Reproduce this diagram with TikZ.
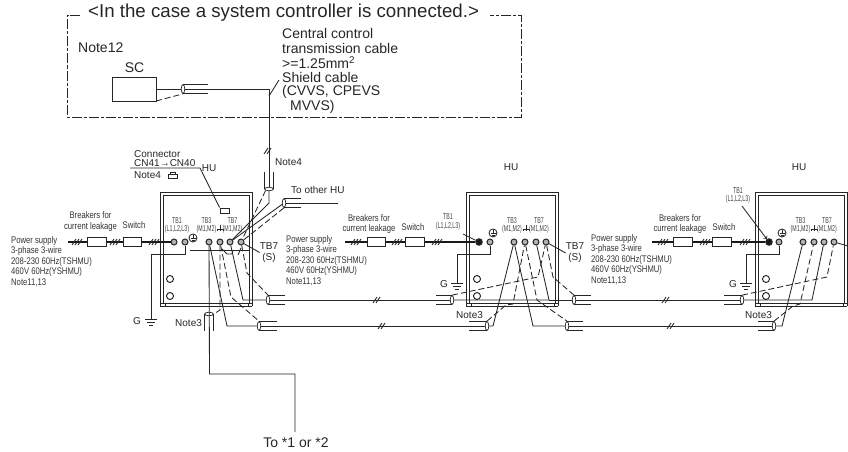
\documentclass[tikz,border=0pt]{standalone}
\usepackage{fontspec}
\setmainfont{Liberation Sans}
\newfontfamily\narrowfont[FakeStretch=0.8]{Liberation Sans}
\newfontfamily\tbfont[FakeStretch=0.62]{Liberation Sans}
\usetikzlibrary{calc,shapes.geometric}
\tikzset{
	wire/.style={line width=0.85pt, color=black!85},
	shield/.style={wire, dash pattern=on 6pt off 3pt},
	feed/.style={line width=1.6pt, color=black!90},
	frameline/.style={line width=0.8pt, color=black!85, dash pattern=on 10pt off 2pt on 3pt off 2pt},
	term/.style={circle, draw=black!85, line width=1pt, fill=black!30, minimum size=6pt, inner sep=0pt},
	termfull/.style={term, fill=black!90, minimum size=6.5pt},
	hole/.style={circle, draw=black!90, line width=0.9pt, minimum size=7pt, inner sep=0pt},
	cablev/.style={ellipse, draw=black!85, line width=0.7pt, minimum width=3.5pt, minimum height=9pt, inner sep=0pt},
	cableh/.style={ellipse, draw=black!85, line width=0.7pt, minimum width=9pt, minimum height=3.5pt, inner sep=0pt},
	breaker/.style={rectangle, draw=black!85, fill=white, line width=0.85pt, inner sep=0pt},
	bigtxt/.style={color=black!85, font=\fontsize{14}{15}\selectfont, inner sep=0pt},
	midtxt/.style={color=black!85, font=\fontsize{10}{11}\selectfont, inner sep=0pt},
	pwrtxt/.style={color=black!80, font=\narrowfont\fontsize{9.6}{10.6}\selectfont, inner sep=0pt, align=left},
	tbtxt/.style={color=black!75, font=\tbfont\fontsize{8.5}{8.8}\selectfont, inner sep=0pt, align=center},
}
% cable end seen from the side, #4 = length and direction of the sleeve
\def\sleeve(#1)(#2,#3)(#4){\node[cablev] (#1) at (#2,#3) {};
	\draw[wire] (#1.north) -- ++(#4,0);
	\draw[wire] (#1.south) -- ++(#4,0);}
\def\ticks#1(#2,#3){\draw[wire,#1] (#2-5,#3+3) -- (#2-1,#3-3); \draw[wire,#1] (#2-2,#3+3) -- (#2+2,#3-3);}
\def\triple(#1,#2){\ticks{}(#1,#2) \draw[wire] (#1+1,#2+3) -- (#1+5,#2-3);}
\def\gnd(#1,#2){\draw[wire] (#1-6,#2) -- (#1+6,#2); \draw[wire] (#1-4,#2+3) -- (#1+4,#2+3); \draw[wire] (#1-2,#2+6) -- (#1+2,#2+6);}
\def\earth(#1,#2){\draw[wire] (#1,#2) circle (4); \draw[wire] (#1-2.5,#2+0.5) -- (#1+2.5,#2+0.5); \draw[wire] (#1,#2-3) -- (#1,#2+0.5); \draw[wire] (#1-1.5,#2+2) -- (#1+1.5,#2+2);}
\def\smallearth(#1,#2){\draw[wire] (#1,#2-4) -- (#1,#2); \draw[wire] (#1-3,#2) -- (#1+3,#2); \draw[wire] (#1-3,#2) -- (#1-3,#2+2); \draw[wire] (#1,#2) -- (#1,#2+2); \draw[wire] (#1+3,#2) -- (#1+3,#2+2);}
\def\hucase#1{\begin{scope}[xshift=#1pt]
	\draw[wire, line width=1pt] (0,306) -- (0,192) -- (92,192) -- (92,306);
	\draw[wire] (3,303) -- (3,195) -- (89,195) -- (89,303);
	\draw[wire] (0,303) -- (92,303);
	\draw[wire] (0,306.5) -- (92,306.5);
	\draw[wire] (5,303) -- (5,306.5);
	\draw[wire] (88,303) -- (88,306.5);
	\end{scope}}

\begin{document}
\begin{tikzpicture}[x=1pt,y=-1pt]
	\useasboundingbox (0,0) rectangle (848,452);
	
	%%%%% system controller frame %%%%%
	\draw[frameline] (80,15) -- (67.5,15) -- (67.5,117) -- (521,117) -- (521,15) -- (490,15);
	\node[color=black!85, font=\fontsize{18.7}{20}\selectfont, inner sep=0pt, anchor=west] (title) at (88,13) {<In the case a system controller is connected.>};
	\node[bigtxt, anchor=west] (note12) at (78,48) {Note12};
	\node[bigtxt] (sclabel) at (134.5,68) {SC};
	\node[draw=black!85, line width=0.85pt, minimum width=44pt, minimum height=24pt, inner sep=0pt] (sc) at (134,89) {};
	\node[bigtxt, anchor=west] (cab1) at (282,33) {Central control};
	\node[bigtxt, anchor=west] (cab2) at (282,48) {transmission cable};
	\node[bigtxt, anchor=west] (cab3) at (282,63) {>=1.25mm\textsuperscript{2}};
	\node[bigtxt, anchor=west] (cab4) at (282,77) {Shield cable};
	\node[bigtxt, anchor=west] (cab5) at (282,92) {(CVVS, CPEVS};
	\node[bigtxt, anchor=west] (cab6) at (290,107) {MVVS)};
	
	\sleeve(scend)(183,89)(25)
	\coordinate (riser) at (269,89);
	\draw[wire] (sc.east |- riser) -- (scend) -- (riser);
	\draw[shield] (156,101) -- (scend.south);
	\draw[wire] (269,96) -- (279,80);
	
	%%%%% first HU %%%%%
	\hucase{160}
	\draw[wire] (190,250) -- (249,250);
	\node[midtxt, anchor=west] (conn1) at (134,154) {Connector};
	\node[midtxt, anchor=west] (conn2) at (134,163) {CN41→CN40};
	\node[midtxt, anchor=west] (conn3) at (134,175) {Note4};
	\draw[wire] (168,178) rectangle (177,174);
	\draw[wire] (170,174) -- (170,172) -- (175,172) -- (175,174);
	\node[midtxt] (hu1) at (209,168) {HU};
	\node[draw=black!85, line width=0.85pt, minimum width=9pt, minimum height=5pt, inner sep=0pt] (cn40) at (224.5,210.5) {};
	\draw[wire] (130,168) -- (200,168) -- (cn40.north west);
	
	\node[term] (a1) at (174,242) {};
	\node[term] (a2) at (185,242) {};
	\node[term] (a3) at (209,242) {};
	\node[term] (a4) at (220,242) {};
	\node[term] (a5) at (230,242) {};
	\node[term] (a6) at (241,242) {};
	\earth(193,238)
	\smallearth(220,229)
	\node[hole] (a7) at (170,279) {};
	\node[hole] (a8) at (170,296) {};
	\node[tbtxt] (tb1a) at (177,225.5) {TB1\\(L1,L2,L3)};
	\node[tbtxt] (tb3a) at (206.5,225.5) {TB3\\(M1,M2)};
	\node[tbtxt] (tb7a) at (232.5,225.5) {TB7\\(M1,M2)};
	\node[midtxt, align=center] (tb7s1) at (269,252.5) {TB7\\(S)};
	\draw[wire] (a6) -- (tb7s1.west);
	
	\node[pwrtxt, anchor=north west] (pw1) at (11,236) {Power supply\\3-phase 3-wire\\208-230 60Hz(TSHMU)\\460V 60Hz(YSHMU)\\Note11,13};
	\node[pwrtxt, align=center] (br1) at (90.5,221.5) {Breakers for\\current leakage};
	\node[pwrtxt] (sw1) at (134,225) {Switch};
	\draw[feed] (68,242) -- (a1);
	\node[breaker, minimum width=19pt, minimum height=9pt] (b1) at (96.5,241.5) {};
	\node[breaker, minimum width=18pt, minimum height=9pt] (s1) at (132,241.5) {};
	\triple(77,242)
	\triple(115,242)
	\triple(154,242)
	\draw[wire] (a2) -- (185,254) -- (151,254) -- (151,319);
	\gnd(151,319)
	\node[midtxt] (g1) at (137,321) {G};
	
	\node[midtxt, anchor=west] (note4) at (275,162) {Note4};
	\node[cableh] (upper) at (269,189) {};
	\draw[wire] (upper.west) -- ++(0,-17);
	\draw[wire] (upper.east) -- ++(0,-17);
	\draw[wire] (riser) -- (upper);
	\ticks{}(269,151)
	\draw[wire] (upper.south) -- (269,203) -- (a5);
	\draw[shield] (upper.south west) -- (a6);
	\sleeve(other)(284,203)(17)
	\draw[wire] (other) -- (338,203);
	\draw[wire] (other) -- (a5);
	\draw[shield] (other.south) -- (a6);
	\node[midtxt, anchor=west] (tohu) at (291,190) {To other HU};
	
	\node[cableh] (down) at (209,314) {};
	\draw[wire] (down.west) -- ++(0,17);
	\draw[wire] (down.east) -- ++(0,17);
	\node[midtxt, anchor=west] (note3a) at (175,323) {Note3};
	\draw[wire] (a3) -- (209.5,374) -- (295,374) -- (295,432);
	\node[bigtxt] (tostar) at (296,443) {To *1 or *2};
	\draw[shield] (a4) -- (220,310) -- (down.east);
	
	\sleeve(c1)(268,300)(17)
	\sleeve(c2)(259,326)(18)
	\draw[wire] (a5) -- (243,300) -- (c1);
	\draw[wire] (a3) -- (227,326) -- (c2);
	\draw[shield] (a4) -- (231,297) -- (c2.north);
	\draw[shield] (a6) -- (247,273) -- (c1.north);
	\draw[wire] (222,249) -- (227,254) -- (232,254) -- (233,250);
	\draw[wire] (238,255) -- (241,248);
	
	%%%%% second HU %%%%%
	\hucase{466}
	\node[midtxt] (hu2) at (511,167) {HU};
	\node[termfull] (d1) at (479,242) {};
	\node[term] (d2) at (490,242) {};
	\node[term] (d3) at (514,242) {};
	\node[term] (d4) at (525,242) {};
	\node[term] (d5) at (536,242) {};
	\node[term] (d6) at (546,242) {};
	\earth(493,233)
	\smallearth(526,229)
	\node[hole] (d7) at (477,279) {};
	\node[hole] (d8) at (477,296) {};
	\node[tbtxt] (tb1b) at (448,222) {TB1\\(L1,L2,L3)};
	\node[tbtxt] (tb3b) at (512,225.5) {TB3\\(M1,M2)};
	\node[tbtxt] (tb7b) at (539,225.5) {TB7\\(M1,M2)};
	\draw[wire] (463,234) -- (d1);
	\node[midtxt, align=center] (tb7s2) at (575,253) {TB7\\(S)};
	\draw[wire] (d6) -- (tb7s2.west);
	
	\node[pwrtxt, anchor=north west] (pw2) at (286,235) {Power supply\\3-phase 3-wire\\208-230 60Hz(TSHMU)\\460V 60Hz(YSHMU)\\Note11,13};
	\node[pwrtxt, align=center] (br2) at (369,224) {Breakers for\\current leakage};
	\node[pwrtxt] (sw2) at (413,227) {Switch};
	\draw[feed] (345,242) -- (d1);
	\node[breaker, minimum width=18pt, minimum height=9pt] (b2) at (376,241.5) {};
	\node[breaker, minimum width=19pt, minimum height=9pt] (s2) at (414.5,241.5) {};
	\triple(356,242)
	\triple(397,242)
	\triple(437,242)
	\draw[wire] (d2) -- (490,254) -- (457,254) -- (457,283);
	\gnd(457,283)
	\node[midtxt] (g2) at (444,284) {G};
	\node[midtxt, anchor=west] (note3b) at (456,315) {Note3};
	
	\sleeve(e1)(452,300)(-16)
	\sleeve(e2)(487,326)(-18)
	\sleeve(f1)(574,300)(17)
	\sleeve(f2)(567,326)(16)
	\draw[wire] (c1) -- (e1);
	\draw[wire] (c2) -- (e2);
	\ticks{}(378,300)
	\ticks{}(383,326)
	\draw[wire] (e1) -- (549,300) -- (d5);
	\draw[wire] (549,300) -- (f1);
	\draw[wire] (e2) -- (493,326) -- (d3);
	\draw[wire] (d3) -- (533,326) -- (f2);
	\draw[shield] (e2.north) -- (506,305) -- (513,304) -- (d4);
	\draw[shield] (e1.north) -- (538,277) -- (d6);
	\draw[shield] (d4) -- (537,300) -- (f2.north);
	\draw[shield] (d6) -- (553,277) -- (f1.north);
	
	%%%%% third HU %%%%%
	\hucase{755}
	\node[midtxt] (hu3) at (799,167) {HU};
	\node[termfull] (h1) at (769,242) {};
	\node[term] (h2) at (779,242) {};
	\node[term] (h3) at (803,242) {};
	\node[term] (h4) at (814,242) {};
	\node[term] (h5) at (824,242) {};
	\node[term] (h6) at (834,242) {};
	\earth(782,233)
	\smallearth(814,229)
	\node[hole] (h7) at (766,279) {};
	\node[hole] (h8) at (766,296) {};
	\node[tbtxt] (tb1c) at (738,195.5) {TB1\\(L1,L2,L3)};
	\node[tbtxt] (tb3c) at (800.5,225.5) {TB3\\(M1,M2)};
	\node[tbtxt] (tb7c) at (827,225.5) {TB7\\(M1,M2)};
	\draw[wire, ->] (742,206) -- (h1);
	\draw[wire] (h6) -- (848,246);
	
	\node[pwrtxt, anchor=north west] (pw3) at (591,234) {Power supply\\3-phase 3-wire\\208-230 60Hz(TSHMU)\\460V 60Hz(YSHMU)\\Note11,13};
	\node[pwrtxt, align=center] (br3) at (680,224) {Breakers for\\current leakage};
	\node[pwrtxt] (sw3) at (724,227) {Switch};
	\draw[feed] (652,242) -- (h1);
	\node[breaker, minimum width=19pt, minimum height=9pt] (b3) at (682.5,241.5) {};
	\node[breaker, minimum width=19pt, minimum height=9pt] (s3) at (721.5,241.5) {};
	\triple(663,242)
	\triple(705,242)
	\triple(745,242)
	\draw[wire] (h2) -- (779,254) -- (746,254) -- (746,283);
	\gnd(746,283)
	\node[midtxt] (g3) at (733,284) {G};
	\node[midtxt, anchor=west] (note3c) at (745,315) {Note3};
	
	\sleeve(j1)(742,300)(-18)
	\sleeve(j2)(774,326)(-16)
	\draw[wire] (f1) -- (j1);
	\draw[wire] (f2) -- (j2);
	\ticks{}(667,300)
	\ticks{}(672,326)
	\draw[wire] (j1) -- (812,300) -- (h5);
	\draw[wire] (j2) -- (782,326) -- (h3);
	\draw[shield] (j2.north) -- (793,306) -- (800,304) -- (h4);
	\draw[shield] (j1.north) -- (827,277) -- (h6);
	
\end{tikzpicture}
\end{document}
